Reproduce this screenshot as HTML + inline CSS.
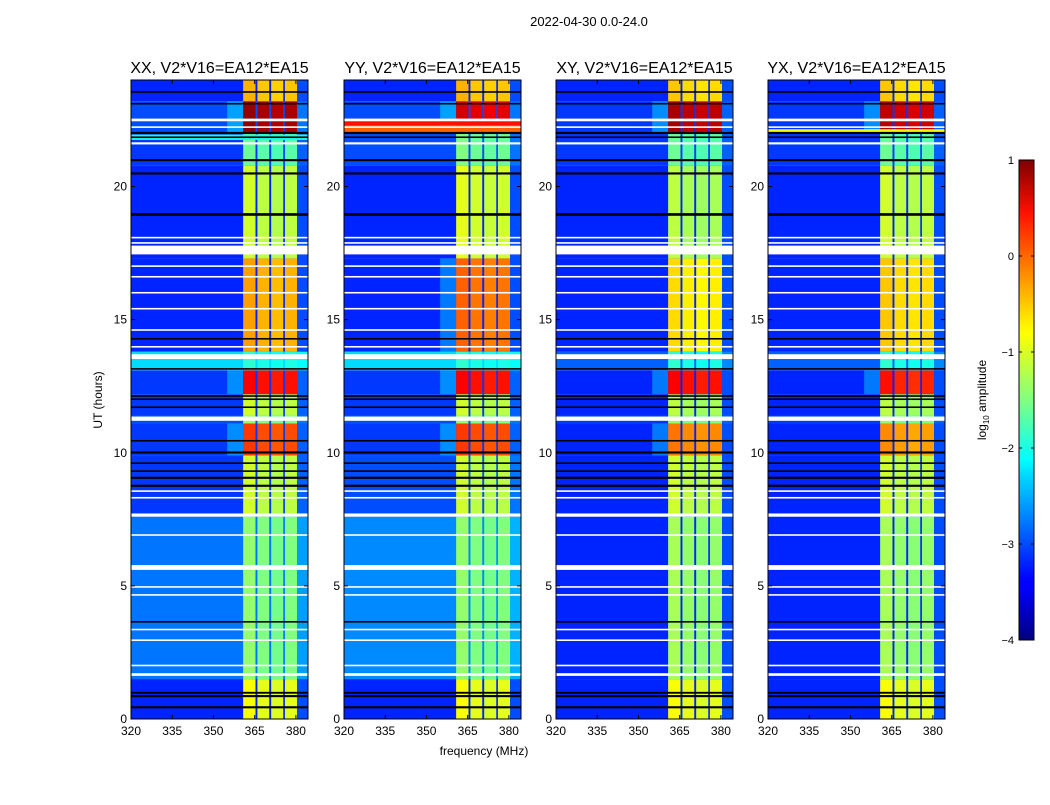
<!DOCTYPE html>
<html><head><meta charset="utf-8">
<style>
body{margin:0;background:#fff;}
svg text{font-family:"Liberation Sans",sans-serif;fill:#000;}
</style></head>
<body>
<svg id="fig" width="1050" height="800" xmlns="http://www.w3.org/2000/svg">
<text x="589" y="26" font-size="13" text-anchor="middle">2022-04-30 0.0-24.0</text>
<defs>
<linearGradient id="jetg" x1="0" y1="1" x2="0" y2="0">
<stop offset="0" stop-color="#00007f"/><stop offset="0.11" stop-color="#0000ff"/>
<stop offset="0.125" stop-color="#0000ff"/><stop offset="0.35" stop-color="#00e0ff"/>
<stop offset="0.375" stop-color="#00ffff"/><stop offset="0.5" stop-color="#80ff80"/>
<stop offset="0.64" stop-color="#ffff00"/><stop offset="0.66" stop-color="#fff000"/>
<stop offset="0.89" stop-color="#ff1000"/><stop offset="1" stop-color="#7f0000"/>
</linearGradient>
</defs>
<g id="panels"></g>
<g id="cbar"></g>
</svg>
<script>
// ---- data ----
const panelTitles = ["XX, V2*V16=EA12*EA15","YY, V2*V16=EA12*EA15","XY, V2*V16=EA12*EA15","YX, V2*V16=EA12*EA15"];
const segStarts = [0,1.5,7.6,9.9,11.1,11.4,12.2,13.1,13.8,17.3,20.8,22.0,23.2];
const segEnds   = [1.5,7.6,9.9,11.1,11.4,12.2,13.1,13.8,17.3,20.8,22.0,23.2,24];
const bandXX = [-1.0,-1.5,-1.2,0.0,-1.5,-1.2,0.3,-2.0,-0.5,-1.2,-1.7,0.8,-0.6];
const bandYY = [-1.0,-1.5,-1.2,0.0,-1.5,-1.2,0.3,-2.0,-0.2,-1.1,-1.6,0.5,-0.6];
const bandXY = [-1.0,-1.4,-1.2,-0.3,-1.5,-1.3,0.3,-2.0,-0.8,-1.3,-1.7,0.7,-0.7];
const bandYX = [-1.0,-1.4,-1.2,-0.4,-1.5,-1.3,0.2,-2.0,-0.7,-1.2,-1.7,0.6,-0.7];
const bgXX = [-3.2,-2.8,-3.1,-3.1,-3.0,-3.1,-3.1,-2.3,-3.2,-3.2,-3.1,-3.0,-3.2];
const bgYY = [-3.2,-2.7,-3.0,-3.1,-3.0,-3.1,-3.1,-2.3,-3.2,-3.2,-3.0,-3.0,-3.2];
const bgXY = [-3.2,-3.2,-3.2,-3.2,-3.1,-3.2,-3.2,-2.9,-3.2,-3.2,-3.1,-3.1,-3.2];
const bgYX = [-3.2,-3.2,-3.2,-3.2,-3.1,-3.2,-3.2,-2.9,-3.2,-3.2,-3.1,-3.1,-3.2];
const subbandLo = [360.8,366.0,371.0,376.0];
const subbandHi = [365.3,370.3,375.4,380.4];
// per-panel full-width stripes (start, end, level)
const stripePanel = [0,1,1,3];
const stripeStart = [21.75,22.05,22.3,22.05];
const stripeEnd   = [21.95,22.3,22.55,22.15];
const stripeLevel = [-2.0,-0.1,0.3,-0.9];
const whiteStart = [1.62,1.98,2.93,3.33,4.63,4.93,5.6,6.88,7.6,8.28,8.53,11.2,13.52,13.95,14.58,15.38,15.98,16.58,16.98,17.45,17.85,18.05,21.58,22.45,22.2];
const whiteEnd   = [1.72,2.04,2.99,3.39,4.69,4.99,5.78,6.94,7.72,8.34,8.59,11.36,13.7,14.01,14.64,15.44,16.04,16.64,17.04,17.78,17.91,18.11,21.66,22.55,22.26];
const blackStart = [0.4,0.82,0.95,3.62,8.72,9.02,9.28,9.58,9.97,10.42,11.68,11.98,12.1,13.12,14.25,18.9,20.45,20.95,21.82,21.97,23.08,23.52];
const blackEnd   = [0.48,0.9,1.02,3.68,8.8,9.1,9.34,9.64,10.05,10.48,11.74,12.04,12.16,13.18,14.31,19.0,20.53,21.03,21.88,22.05,23.14,23.58];
const yTicks = [0,5,10,15,20];
const xTicks = [320,335,350,365,380];
const cbTicks = [1,0,-1,-2,-3,-4];
const cbLabels = ["1","0","\u22121","\u22122","\u22123","\u22124"];
const bands=[bandXX,bandYY,bandXY,bandYX], bgs=[bgXX,bgYY,bgXY,bgYX];

const panelLeft=[131,344,556,768], PW=177, PT=80, PB=719;
const fMin=320, fMax=384.4, tMin=0, tMax=24;
const NS="http://www.w3.org/2000/svg";
function jet(v){
  let t=Math.max(0,Math.min(1,(v+4)/5));
  const r=Math.max(0,Math.min(1,Math.min(4*t-1.5,-4*t+4.5)));
  const g=Math.max(0,Math.min(1,Math.min(4*t-0.5,-4*t+3.5)));
  const b=Math.max(0,Math.min(1,Math.min(4*t+0.5,-4*t+2.5)));
  return `rgb(${Math.round(r*255)},${Math.round(g*255)},${Math.round(b*255)})`;
}
function el(tag,attrs,parent){const e=document.createElementNS(NS,tag);for(const k in attrs)e.setAttribute(k,attrs[k]);parent.appendChild(e);return e;}
const root=document.getElementById('panels');
panelLeft.forEach((L,p)=>{
  const xS=f=>L+(f-fMin)/(fMax-fMin)*PW;
  const yS=t=>PB-(t-tMin)/(tMax-tMin)*(PB-PT);
  const g=el('g',{},root);
  
  
  segStarts.forEach((s,i)=>{
    const y0=yS(segEnds[i]), h=yS(s)-y0;
    const bg=el('rect',{x:L,y:y0,width:PW,height:h,fill:jet(bgs[p][i])},g);
    
    
    if(bands[p][i]>-0.4){
      const sh=el('rect',{x:xS(355),y:y0,width:xS(360.8)-xS(355),height:h,fill:jet(bgs[p][i]+0.7),opacity:0.6},g);
      
      
    }
    subbandLo.forEach((lo,k)=>{
      const v=bands[p][i]+(k===0?0.1:k===2?-0.05:0);
      const r=el('rect',{x:xS(lo),y:y0,width:xS(subbandHi[k])-xS(lo),height:h,fill:jet(v)},g);
      
      
    });
    const rb=el('rect',{x:xS(380.4),y:y0,width:xS(384.4)-xS(380.4),height:h,fill:jet(bgs[p][i]+0.2)},g);
    
    
  });
  stripePanel.forEach((pp,i)=>{
    if(pp!==p) return;
    const r=el('rect',{x:L,y:yS(stripeEnd[i]),width:PW,height:yS(stripeStart[i])-yS(stripeEnd[i]),fill:jet(stripeLevel[i])},g);
    
    
  });
  whiteStart.forEach((s,i)=>{
    const r=el('rect',{x:L,y:yS(whiteEnd[i]),width:PW,height:Math.max(1,yS(s)-yS(whiteEnd[i])),fill:'#fff'},g);
    
    
  });
  blackStart.forEach((s,i)=>{
    const r=el('rect',{x:L,y:yS(blackEnd[i]),width:PW,height:Math.max(1,yS(s)-yS(blackEnd[i])),fill:'#000'},g);
    
    
  });
  const fr=el('rect',{x:L,y:PT,width:PW,height:PB-PT,fill:'none',stroke:'#000','stroke-width':1},g);
  
  
  const tt=el('text',{x:L+PW/2,y:PT-7,'font-size':16,'text-anchor':'middle'},g);
  tt.textContent=panelTitles[p];
  
  
  yTicks.forEach(t=>{
    const y=yS(t);
    el('line',{x1:L,x2:L+4,y1:y,y2:y,stroke:'#000'},g);
    el('line',{x1:L+PW-4,x2:L+PW,y1:y,y2:y,stroke:'#000'},g);
    const tx=el('text',{x:L-4,y:y+4,'font-size':12,'text-anchor':'end'},g);
    tx.textContent=t;
    
    
  });
  xTicks.forEach(f=>{
    const x=xS(f);
    el('line',{x1:x,x2:x,y1:PB,y2:PB-4,stroke:'#000'},g);
    el('line',{x1:x,x2:x,y1:PT,y2:PT+4,stroke:'#000'},g);
    const tx=el('text',{x:x,y:PB+16,'font-size':12,'text-anchor':'middle'},g);
    tx.textContent=f;
    
    
  });
});
const yl=el('text',{x:102,y:400,'font-size':12,'text-anchor':'middle',transform:'rotate(-90 102 400)'},root);
yl.textContent='UT (hours)';


const xl=el('text',{x:484,y:755,'font-size':12,'text-anchor':'middle'},root);
xl.textContent='frequency (MHz)';


// colorbar
const cb=document.getElementById('cbar');
const CX=1019,CW=15,CT=160,CB=640;
const cr=el('rect',{x:CX,y:CT,width:CW,height:CB-CT,fill:'url(#jetg)',stroke:'#000'},cb);


cbTicks.forEach((v,i)=>{
  const y=CB-(v+4)/5*(CB-CT);
  el('line',{x1:CX,x2:CX+3,y1:y,y2:y,stroke:'#000'},cb);
  el('line',{x1:CX+CW-3,x2:CX+CW,y1:y,y2:y,stroke:'#000'},cb);
  const t=el('text',{x:CX-5,y:y+4,'font-size':11,'text-anchor':'end'},cb);
  t.textContent=cbLabels[i];
  
  
});
const cl=el('text',{x:986,y:400,'font-size':12,'text-anchor':'middle',transform:'rotate(-90 986 400)'},cb);
cl.innerHTML='log<tspan font-size="8" dy="3">10</tspan><tspan dy="-3"> amplitude</tspan>';


</script>
</body></html>
